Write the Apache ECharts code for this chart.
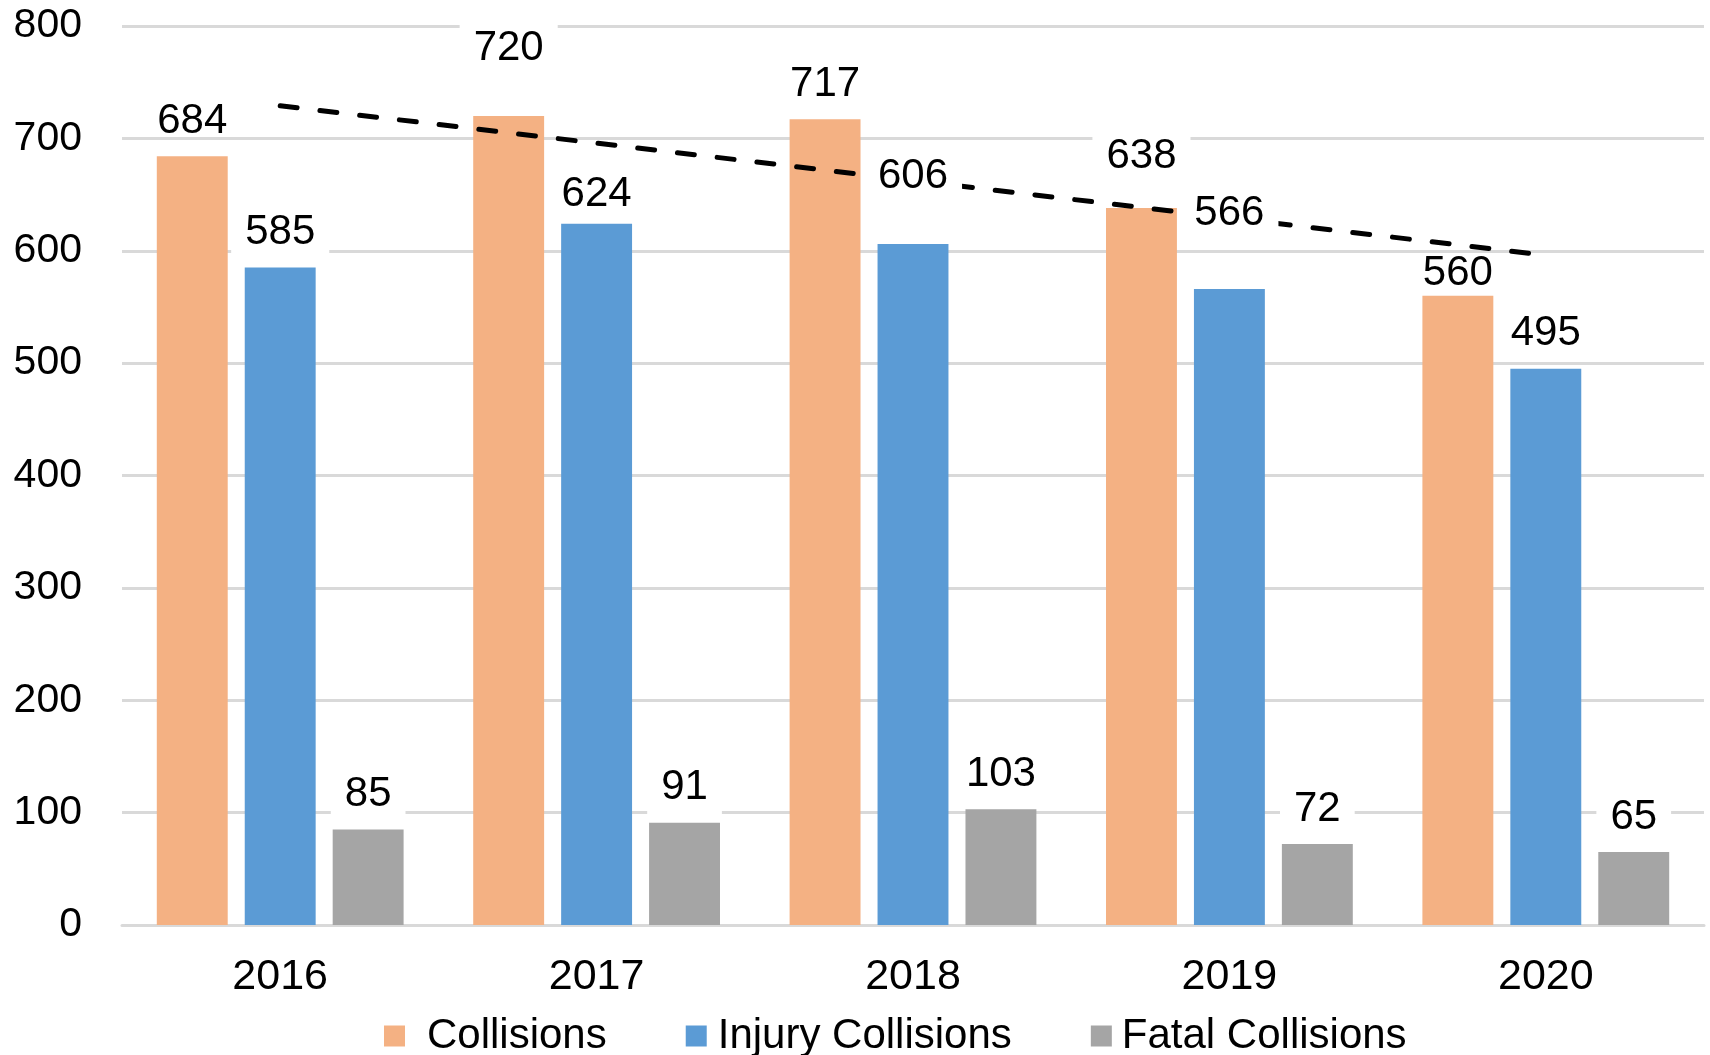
<!DOCTYPE html>
<html>
<head>
<meta charset="utf-8">
<script src="https://cdn.jsdelivr.net/npm/echarts@6/dist/echarts.min.js"></script>
<style>
  html, body { margin: 0; padding: 0; background: #fff; }
  #chartBox { width: 1710px; height: 1055px; }
</style>
</head>
<body>
<div id="chartBox"></div>
<script>
const years = ['2016', '2017', '2018', '2019', '2020']
const collisions = [684, 720, 717, 638, 560]
const injuryCollisions = [585, 624, 606, 566, 495]
const fatalCollisions = [85, 91, 103, 72, 65]
// dashed trend over collisions, ends
const trend = [729, null, null, null, 596]
const yTicks = [0, 100, 200, 300, 400, 500, 600, 700, 800]

// some labels were nudged by hand in the original
const labelNudge = {
  Collisions: { 1: -32, 3: -17, 4: 13 },
  'Injury Collisions': { 1: 6, 2: -33, 3: -41 }
}
// labels drawn without a white box
const noBox = { Collisions: [0, 4] }

const font = 'Liberation Sans, Arial, sans-serif'
const colors = {
  Collisions: '#F4B183',
  'Injury Collisions': '#5B9BD5',
  'Fatal Collisions': '#A5A5A5'
}

function labelData(name, values) {
  const nudge = labelNudge[name] || {}
  const plain = noBox[name] || []
  return values.map((v, i) => {
    const label = {}
    if (nudge[i] !== undefined) label.offset = [0, nudge[i]]
    if (plain.indexOf(i) >= 0) label.backgroundColor = 'transparent'
    return Object.keys(label).length ? { value: v, label: label } : v
  })
}

function barSeries(name, values) {
  return {
    name: name,
    type: 'bar',
    z: 2,
    data: values,
    itemStyle: { color: colors[name] },
    barGap: '24%',
    barCategoryGap: '22%'
  }
}

// same bars on a hidden twin axis, only to carry labels above the trend line
function labelSeries(name, values) {
  return {
    name: name + ' label',
    type: 'bar',
    xAxisIndex: 1,
    z: 4,
    silent: true,
    data: labelData(name, values),
    itemStyle: { color: 'rgba(0,0,0,0)' },
    barGap: '24%',
    barCategoryGap: '22%',
    label: {
      show: true,
      position: 'top',
      distance: 7,
      color: '#000',
      fontFamily: font,
      fontSize: 42,
      lineHeight: 44,
      backgroundColor: '#fff',
      padding: [4, 14, 6, 14]
    }
  }
}

const chart = echarts.init(document.getElementById('chartBox'))
chart.setOption({
  animation: false,
  textStyle: { fontFamily: font },
  grid: { left: 122, right: 6, top: 26, bottom: 130 },
  legend: {
    data: [
      { name: 'Collisions', textStyle: { padding: [0, 0, 0, 17] } },
      { name: 'Injury Collisions', textStyle: { padding: [0, 0, 0, 6] } },
      { name: 'Fatal Collisions', textStyle: { padding: [0, 0, 0, 5] } }
    ],
    left: 379,
    top: 1010,
    icon: 'rect',
    itemWidth: 21,
    itemHeight: 21,
    itemGap: 79,
    textStyle: { color: '#000', fontSize: 42, fontFamily: font }
  },
  xAxis: [
    {
      type: 'category',
      data: years,
      axisTick: { show: false },
      axisLine: { show: true, lineStyle: { color: '#d9d9d9', width: 3 } },
      axisLabel: { color: '#000', fontSize: 43, fontFamily: font, margin: 31 }
    },
    { type: 'category', data: years, show: false }
  ],
  yAxis: {
    type: 'value',
    min: yTicks[0],
    max: yTicks[yTicks.length - 1],
    interval: 100,
    axisLine: { show: false },
    axisTick: { show: false },
    splitLine: { lineStyle: { color: '#d9d9d9', width: 3 } },
    axisLabel: {
      color: '#000',
      fontSize: 41,
      fontFamily: font,
      margin: 40,
      padding: [8, 0, 0, 0]
    }
  },
  series: [
    barSeries('Collisions', collisions),
    barSeries('Injury Collisions', injuryCollisions),
    barSeries('Fatal Collisions', fatalCollisions),
    {
      name: 'Trend',
      type: 'line',
      z: 3,
      data: trend,
      connectNulls: true,
      showSymbol: false,
      symbol: 'none',
      silent: true,
      lineStyle: { color: '#000', width: 5, type: [17, 23], cap: 'round' }
    },
    labelSeries('Collisions', collisions),
    labelSeries('Injury Collisions', injuryCollisions),
    labelSeries('Fatal Collisions', fatalCollisions)
  ]
})
</script>
</body>
</html>
